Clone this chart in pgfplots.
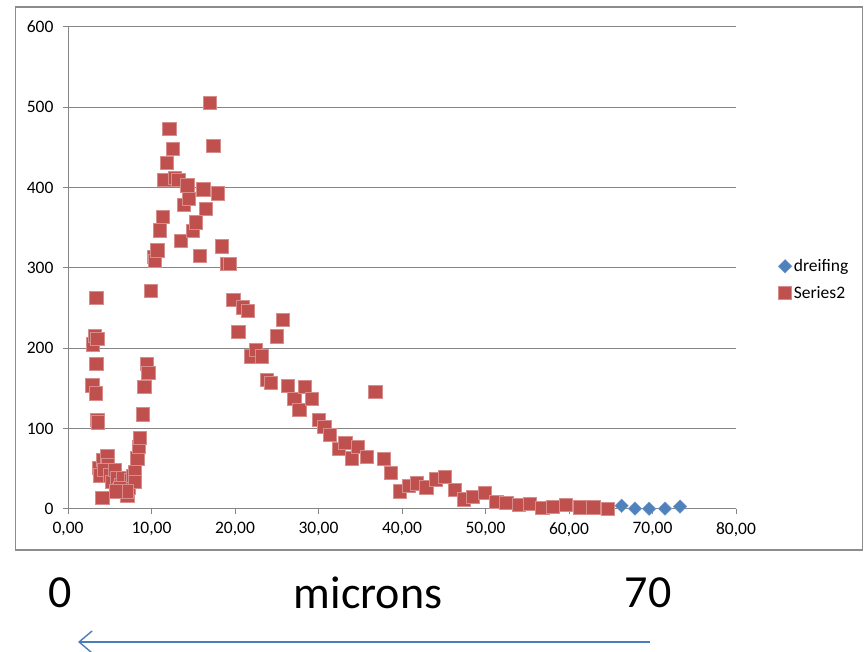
\documentclass[border=0pt]{standalone}
\usepackage{pgfplots}
\pgfplotsset{compat=1.18}
\usepackage{fontspec}
\setmainfont{Carlito}
\usetikzlibrary{arrows.meta}
\definecolor{exred}{HTML}{C0504D}
\definecolor{exblue}{HTML}{4F81BD}
\definecolor{gridgray}{HTML}{868686}
\definecolor{framegray}{HTML}{8C8C8C}
\definecolor{arrowblue}{HTML}{4A7EBB}
\begin{document}
\begin{tikzpicture}[x=1pt,y=1pt]
\useasboundingbox (0,0) rectangle (864,652);
\draw[framegray, line width=1.6pt] (15.5,102) rectangle (862.5,645);
\begin{axis}[
  at={(68pt,143pt)}, anchor=origin,
  scale only axis, width=668pt, height=482pt,
  xmin=0, xmax=80, ymin=0, ymax=600,
  xtick={0,10,...,80}, ytick={0,100,...,600},
  axis x line*=bottom, axis y line*=left,
  axis line style={gridgray, line width=1pt},
  ymajorgrids, grid style={gridgray, line width=1pt},
  tick align=outside, major tick length=5pt,
  tick style={gridgray, line width=1pt},
  ticklabel style={font=\fontsize{17.5}{21}\selectfont, text=black},
  /pgf/number format/assume math mode=true,
  xticklabel style={yshift=-5pt, /pgf/number format/.cd, fixed, fixed zerofill, precision=2, use comma},
  yticklabel style={xshift=-6pt, /pgf/number format/.cd, fixed, precision=0},
  legend style={draw=none, fill=none, at={(1.06,0.476)}, anchor=west,
    font=\fontsize{17.5}{21}\selectfont, row sep=9pt, inner sep=2pt},
  legend cell align=left,
  clip=false,
]
\addplot[only marks, mark=square*, mark size=4.8pt,
  mark options={rotate=45, fill=exblue, draw=exblue!80!white, line width=0.4pt}]
  coordinates {(66.3,4) (67.9,0.5) (69.6,0.3) (71.5,0.5) (73.3,3)};
\addlegendentry{dreifing}
\addplot[only marks, mark=square*, mark size=6.6pt,
  mark options={fill=exred, draw=exred!65!white, line width=0.6pt}]
  coordinates {
(2.9,154) (3.0,205) (3.2,216) (3.3,144) (3.4,263) (3.4,181) (3.5,212) (3.5,111) (3.6,108)
(3.75,51) (3.8,42) (4.1,14) (4.2,61) (4.7,66) (4.8,55) (4.3,49) (5.0,42) (5.3,34) (5.6,49)
(5.9,39) (6.1,24) (6.3,30) (6.6,39) (6.8,21) (7.1,17) (7.3,26) (7.5,36) (7.8,41) (8.0,46)
(8.0,34) (6.2,26) (7.0,22) (5.7,22) (8.3,63) (8.5,77) (8.6,89)
(8.98,118) (9.14,152) (9.42,181) (9.62,170) (9.94,272) (10.3,314) (10.42,309) (10.7,322)
(11.0,347) (11.34,364) (11.54,410) (11.86,431) (12.13,473) (12.53,448) (12.81,412) (13.2,410)
(13.5,334) (13.9,379) (14.29,403) (14.5,386) (14.93,346) (15.33,357) (15.8,315) (16.2,398)
(16.5,374) (17.0,506) (17.4,452) (17.9,393) (18.4,327) (19.0,305) (19.4,305) (19.8,260)
(20.4,221) (20.9,251) (21.5,247) (21.9,190) (22.5,198) (23.2,190) (23.8,161) (24.3,157)
(25.0,215) (25.7,236) (26.3,153) (27.1,137) (27.7,123) (28.4,152) (29.2,137) (30.0,111)
(30.7,102) (31.4,92) (32.4,75) (33.2,82) (34.0,63) (34.7,77) (35.8,65) (36.8,146)
(37.8,62) (38.7,45) (39.7,22) (40.8,29) (41.8,32) (42.9,27) (44.0,37) (45.1,40)
(46.3,24) (47.4,12) (48.5,15) (49.9,20) (51.3,9) (52.5,8) (54.0,5) (55.3,6) (56.8,1)
(58.1,3) (59.6,5) (61.3,2) (62.9,2) (64.6,0)
  };
\addlegendentry{Series2}
\end{axis}
\node[font=\fontsize{46}{52}\selectfont] at (60,59) {0};
\node[font=\fontsize{46}{52}\selectfont] at (368,59) {microns};
\node[font=\fontsize{46}{52}\selectfont] at (648,59) {70};
\draw[arrowblue, line width=1.6pt, -{Straight Barb[length=13pt, width=22pt, line width=1.4pt]}] (650,10) -- (78,10);
\end{tikzpicture}
\end{document}
